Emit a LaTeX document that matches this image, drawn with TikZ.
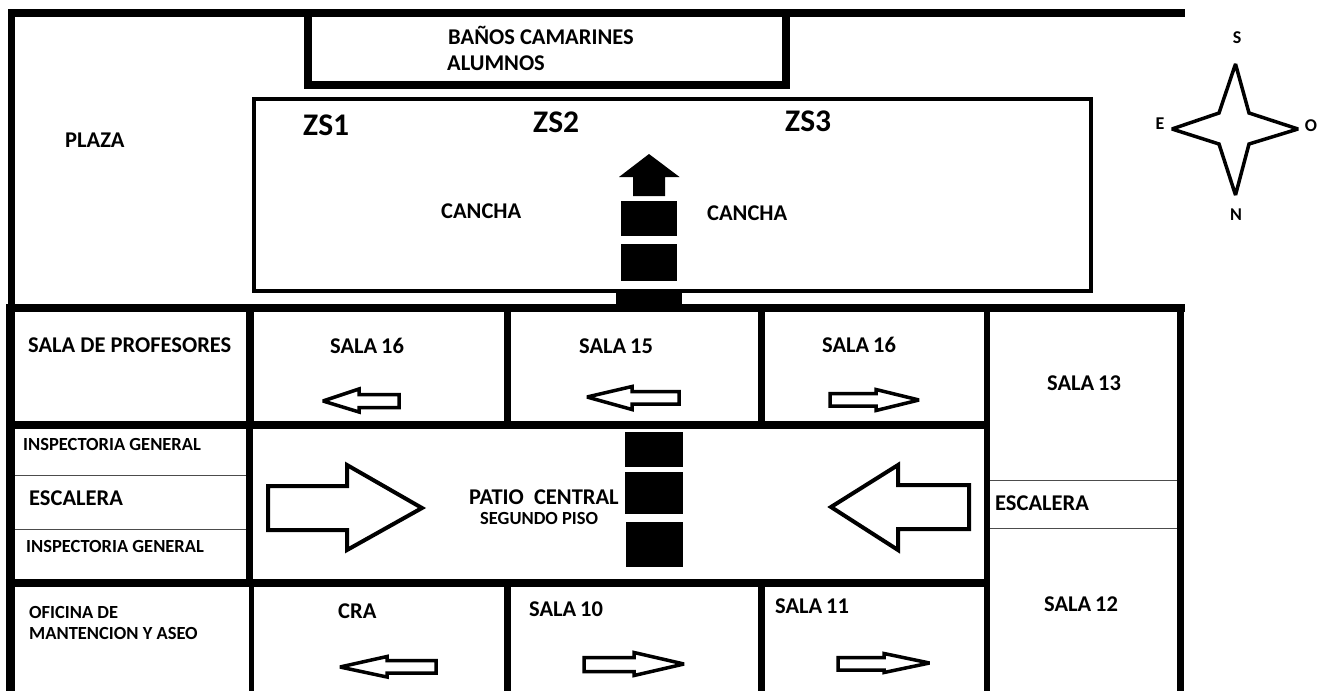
\documentclass[tikz,border=0pt]{standalone}
\usepackage{fontspec}
\setmainfont{Carlito}
\tikzset{
    wall/.style={line width=8pt},
    thinwall/.style={line width=1pt, black!70},
    courtline/.style={line width=4pt},
    block/.style={fill=black},
    hollow/.style={draw, line width=3.5pt, line join=miter, miter limit=3, fill=white},
    bigarrow/.style={hollow, line width=4pt},
    lbl/.style={anchor=west, inner sep=0pt, font=\fontsize{22.5}{22.5}\selectfont\bfseries},
    smalllbl/.style={lbl, font=\fontsize{18.5}{18.5}\selectfont\bfseries},
    zonelbl/.style={lbl, font=\fontsize{31.5}{31.5}\selectfont\bfseries},
    pointlbl/.style={anchor=center, inner sep=0pt, font=\fontsize{18}{18}\selectfont\bfseries}
}
\begin{document}
\begin{tikzpicture}[x=1pt, y=-1pt]
    \useasboundingbox (0,0) rectangle (1330,691);
    \fill[white] (0,0) rectangle (1330,691);

    % outer walls
    \draw[wall] (8,12.5) -- (1185,12.5);
    \draw[line width=7pt] (11.5,9) -- (11.5,308);
    \draw[line width=9pt] (10.5,304) -- (10.5,691);
    \draw[wall] (6,307.5) -- (1185,307.5);
    \draw[line width=7pt] (1180.5,304) -- (1180.5,691);

    % changing rooms and court
    \draw[wall] (308,12) -- (308,84.5) -- (786,84.5) -- (786,12);
    \draw[courtline] (254,99) rectangle (1091,291);

    % inner walls
    \draw[wall] (249.5,304) -- (249.5,428);
    \draw[wall] (6,424.5) -- (989,424.5);
    \draw[wall] (6,583) -- (989,583);
    \draw[line width=7pt] (249.5,428) -- (249.5,579);
    \draw[line width=5pt] (251,587) -- (251,691);
    \draw[line width=7pt] (507.5,304) -- (507.5,429);
    \draw[line width=7pt] (507.5,579) -- (507.5,691);
    \draw[line width=7pt] (761.5,304) -- (761.5,425);
    \draw[line width=7pt] (761.5,579) -- (761.5,691);
    \draw[line width=6pt] (986.5,304) -- (986.5,691);

    % stairs lines
    \draw[thinwall] (15,475) -- (246,475);
    \draw[thinwall] (15,529) -- (246,529);
    \draw[thinwall] (990,480) -- (1177,480);
    \draw[thinwall] (990,528) -- (1177,528);

    % black blocks
    \fill[block] (620.5,201) rectangle (677,236);
    \fill[block] (620.5,244) rectangle (677,281);
    \fill[block] (616,291) rectangle (682,304);
    \fill[block] (649,154) -- (679.5,177) -- (665,177) -- (665,196) -- (633,196) -- (633,177) -- (619,177) -- cycle;
    \fill[block] (625,432) rectangle (683,467);
    \fill[block] (625,472) rectangle (683,514);
    \fill[block] (626,522) rectangle (683,567);

    % big arrows
    \draw[bigarrow] (268,486) -- (347,486) -- (347,465) -- (422,508) -- (347,550) -- (347,530) -- (268,530) -- cycle;
    \draw[bigarrow] (969,485) -- (898,485) -- (898,465) -- (831,507) -- (898,550) -- (898,529) -- (969,529) -- cycle;

    % small arrows
    \draw[hollow] (323,401) -- (359,389) -- (359,394.5) -- (399,394.5) -- (399,407.5) -- (359,407.5) -- (359,412) -- cycle;
    \draw[hollow] (587,397) -- (632,386.5) -- (632,391.5) -- (679,391.5) -- (679,404) -- (632,404) -- (632,409.5) -- cycle;
    \draw[hollow] (919,400) -- (876,389.5) -- (876,393.5) -- (830,393.5) -- (830,406) -- (876,406) -- (876,410.5) -- cycle;
    \draw[hollow] (340,667) -- (387,656.5) -- (387,660.5) -- (436,660.5) -- (436,673) -- (387,673) -- (387,677) -- cycle;
    \draw[hollow] (684,664) -- (634,652.5) -- (634,657.5) -- (584,657.5) -- (584,671.5) -- (634,671.5) -- (634,675.5) -- cycle;
    \draw[hollow] (929.5,663) -- (884,653.5) -- (884,657.5) -- (838,657.5) -- (838,670) -- (884,670) -- (884,672.5) -- cycle;

    % compass
    \draw[hollow] (1235.5,64) -- (1249,113) -- (1298,129) -- (1249,144) -- (1235.5,195) -- (1219,144) -- (1172,129) -- (1219,113) -- cycle;
    \node[pointlbl] (south) at (1237,38) {S};
    \node[pointlbl] (east) at (1160,124) {E};
    \node[pointlbl] (west) at (1311,126) {O};
    \node[pointlbl] (north) at (1236,215) {N};

    % top labels
    \node[lbl] (banos) at (448,35) {BAÑOS CAMARINES};
    \node[lbl] (alumnos) at (447,63) {ALUMNOS};
    \node[lbl] (plaza) at (65,140) {PLAZA};
    \node[zonelbl] (zsone) at (303,125) {ZS1};
    \node[zonelbl] (zstwo) at (533,122) {ZS2};
    \node[zonelbl] (zsthree) at (785,121) {ZS3};
    \node[lbl] (canchaleft) at (441,211) {CANCHA};
    \node[lbl] (canchart) at (707,213) {CANCHA};

    % upper rooms
    \node[lbl] (profesores) at (28,345) {SALA DE PROFESORES};
    \node[lbl] (salaleft) at (330,346) {SALA\,16};
    \node[lbl] (salamid) at (579,346) {SALA\,15};
    \node[lbl] (salaright) at (822,345) {SALA\,16};
    \node[lbl] (salathirteen) at (1047,383) {SALA\,13};

    % middle labels
    \node[smalllbl] (inspone) at (23,444) {INSPECTORIA GENERAL};
    \node[lbl] (stairleft) at (29,498) {ESCALERA};
    \node[smalllbl] (insptwo) at (26,546) {INSPECTORIA GENERAL};
    \node[lbl] (patio) at (469,497) {PATIO\ \ CENTRAL};
    \node[smalllbl] (piso) at (480,518) {SEGUNDO PISO};
    \node[lbl] (stairright) at (995,503) {ESCALERA};

    % lower rooms
    \node[smalllbl] (oficina) at (29,612) {OFICINA DE};
    \node[smalllbl] (mantencion) at (29,633) {MANTENCION Y ASEO};
    \node[lbl] (cra) at (338,611) {CRA};
    \node[lbl] (salaten) at (529,609) {SALA\,10};
    \node[lbl] (salaeleven) at (775,606) {SALA\,11};
    \node[lbl] (salatwelve) at (1044,604) {SALA\,12};
\end{tikzpicture}
\end{document}
